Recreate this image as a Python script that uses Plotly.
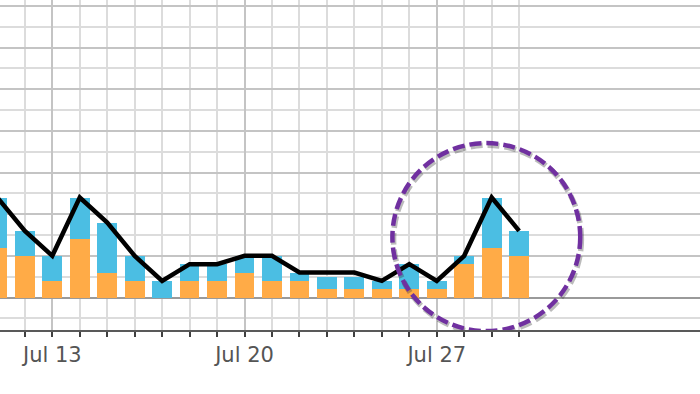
import plotly.graph_objects as go
import pandas as pd

# ---- data ----
dates = pd.date_range("2020-07-11", "2020-07-30", freq="D")
orange_vals = [2.4, 2.0, 0.8, 2.8, 1.2, 0.8, 0.0, 0.8, 0.8, 1.2,
               0.8, 0.8, 0.4, 0.4, 0.4, 0.4, 0.4, 1.6, 2.4, 2.0]
blue_vals = [2.4, 1.2, 1.2, 2.0, 2.4, 1.2, 0.8, 0.8, 0.8, 0.8,
             1.2, 0.4, 0.6, 0.6, 0.4, 1.2, 0.4, 0.4, 2.4, 1.2]
line_vals = [4.8, 3.2, 2.0, 4.8, 3.6, 2.0, 0.8, 1.6, 1.6, 2.0,
             2.0, 1.2, 1.2, 1.2, 0.8, 1.6, 0.8, 2.0, 4.8, 3.2]
major_ticks = ["2020-07-13", "2020-07-20", "2020-07-27"]
major_text = ["Jul 13", "Jul 20", "Jul 27"]

# highlight circle (decoration) around the latest peak
hl_center = pd.Timestamp("2020-07-28 19:20")
hl_rx_days = 3.42
hl_cy, hl_ry = 2.9, 4.51

fig = go.Figure()
fig.add_trace(go.Bar(x=dates, y=orange_vals, marker=dict(color="#FFAB47", line=dict(width=0)),
                     showlegend=False))
fig.add_trace(go.Bar(x=dates, y=blue_vals, marker=dict(color="#4BBEE3", line=dict(width=0)),
                     showlegend=False))
fig.add_trace(go.Scatter(x=dates, y=line_vals, mode="lines",
                         line=dict(color="#000000", width=4.5), showlegend=False))

x0 = hl_center - pd.Timedelta(days=hl_rx_days)
x1 = hl_center + pd.Timedelta(days=hl_rx_days)
# soft shadow
fig.add_shape(type="circle", xref="x", yref="y",
              x0=x0 + pd.Timedelta(hours=1), x1=x1 + pd.Timedelta(hours=1),
              y0=hl_cy - hl_ry - 0.1, y1=hl_cy + hl_ry - 0.1,
              line=dict(color="rgba(60,60,60,0.35)", width=5.5, dash="12px,5px"), layer="above")
fig.add_shape(type="circle", xref="x", yref="y",
              x0=x0, x1=x1, y0=hl_cy - hl_ry, y1=hl_cy + hl_ry,
              line=dict(color="#7030A0", width=4.5, dash="12px,5px"), layer="above")

fig.update_layout(
    width=700, height=394,
    margin=dict(l=0, r=0, t=0, b=64),
    paper_bgcolor="white", plot_bgcolor="white",
    barmode="stack", bargap=0.28,
    xaxis=dict(
        type="date",
        range=["2020-07-11 02:17", "2020-08-05 14:05"],
        tickmode="array", tickvals=major_ticks, ticktext=major_text,
        ticks="outside", ticklen=5, tickwidth=1.5, tickcolor="#404040",
        showgrid=True, gridcolor="#c4c4c4", gridwidth=1.5,
        showline=True, linecolor="#595959", linewidth=2,
        tickfont=dict(family="DejaVu Sans", size=21, color="#555555"),
        minor=dict(tickmode="array", tickvals=list(dates), ticks="outside", ticklen=5,
                   tickwidth=1.5, tickcolor="#404040",
                   showgrid=True, gridcolor="#dcdcdc", gridwidth=1.5),
        zeroline=False,
    ),
    yaxis=dict(
        range=[-1.56, 14.28],
        tick0=0, dtick=2, showticklabels=False, ticks="",
        showgrid=True, gridcolor="#c4c4c4", gridwidth=1.5,
        minor=dict(dtick=1, showgrid=True, gridcolor="#dcdcdc", gridwidth=1.5),
        zeroline=True, zerolinecolor="#9a9a9a", zerolinewidth=1.5,
        showline=False,
    ),
)

fig.write_html("out.html")
